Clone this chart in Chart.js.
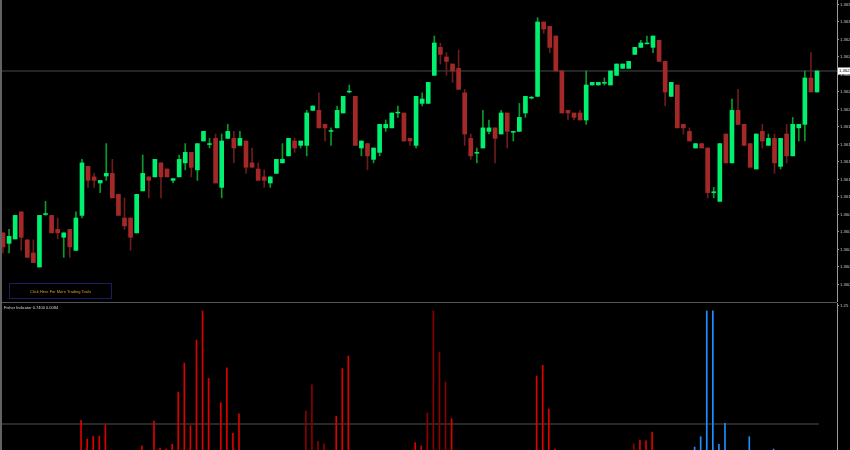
<!DOCTYPE html>
<html>
<head>
<meta charset="utf-8">
<script src="https://cdn.jsdelivr.net/npm/chart.js@4/dist/chart.umd.min.js"></script>
<style>
  html, body { margin: 0; padding: 0; background: #000; }
  #wrap { position: relative; width: 850px; height: 450px; overflow: hidden; background: #000; }
  #top { position: absolute; left: 0; top: 0; }
  #bot { position: absolute; left: 0; top: 303px; }
  #sep { position: absolute; left: 0; top: 302px; width: 837px; height: 1px; background: #555; }
  #lb { position: absolute; left: 0; top: 0; width: 2px; height: 450px; background: #626262; }
</style>
</head>
<body>
<div id="wrap">
  <canvas id="top" width="850" height="302"></canvas>
  <div id="sep"></div>
  <canvas id="bot" width="850" height="147"></canvas>
  <div id="lb"></div>
</div>
<script>
// ---- data ----
const candleOpen = [1.36059,1.36047,1.36052,1.36083,1.36051,1.36036,1.36020,1.36080,1.36079,1.36063,
1.36054,1.36063,1.36039,1.36079,1.36135,1.36123,1.36116,1.36124,1.36127,1.36103,
1.36076,1.36076,1.36059,1.36107,1.36123,1.36123,1.36139,1.36132,1.36119,1.36123,
1.36139,1.36151,1.36131,1.36164,1.36160,1.36167,1.36111,1.36167,1.36167,1.36159,
1.36164,1.36139,1.36132,1.36123,1.36116,1.36127,1.36139,1.36147,1.36164,1.36159,
1.36159,1.36199,1.36199,1.36183,1.36175,1.36179,1.36196,1.36220,1.36215,1.36156,
1.36161,1.36143,1.36151,1.36179,1.36179,1.36196,1.36196,1.36167,1.36159,1.36207,
1.36207,1.36239,1.36271,1.36260,1.36252,1.36247,1.36219,1.36167,1.36150,1.36156,
1.36175,1.36179,1.36172,1.36196,1.36174,1.36175,1.36196,1.36213,1.36215,1.36300,
1.36295,1.36284,1.36244,1.36199,1.36196,1.36196,1.36188,1.36228,1.36228,1.36230,
1.36228,1.36239,1.36247,1.36247,1.36263,1.36271,1.36275,1.36271,1.36279,1.36255,
1.36215,1.36228,1.36183,1.36175,1.36156,1.36161,1.36156,1.36105,1.36095,1.36172,
1.36139,1.36199,1.36183,1.36161,1.36132,1.36175,1.36159,1.36167,1.36135,1.36172,
1.36147,1.36179,1.36183,1.36236,1.36220];
const candleHigh = [1.36059,1.36063,1.36079,1.36083,1.36051,1.36051,1.36079,1.36095,1.36079,1.36076,
1.36059,1.36063,1.36083,1.36143,1.36135,1.36127,1.36119,1.36161,1.36143,1.36103,
1.36099,1.36076,1.36103,1.36148,1.36123,1.36143,1.36139,1.36132,1.36121,1.36148,
1.36161,1.36151,1.36161,1.36175,1.36167,1.36172,1.36172,1.36183,1.36175,1.36175,
1.36164,1.36156,1.36139,1.36131,1.36123,1.36143,1.36161,1.36167,1.36167,1.36164,
1.36199,1.36204,1.36219,1.36183,1.36179,1.36204,1.36215,1.36228,1.36215,1.36164,
1.36161,1.36156,1.36183,1.36188,1.36196,1.36204,1.36196,1.36167,1.36215,1.36219,
1.36231,1.36284,1.36276,1.36265,1.36252,1.36268,1.36223,1.36172,1.36156,1.36199,
1.36188,1.36179,1.36199,1.36196,1.36175,1.36207,1.36215,1.36215,1.36305,1.36300,
1.36295,1.36284,1.36244,1.36199,1.36196,1.36199,1.36244,1.36231,1.36231,1.36236,
1.36244,1.36252,1.36252,1.36255,1.36271,1.36279,1.36284,1.36284,1.36279,1.36255,
1.36231,1.36228,1.36183,1.36179,1.36161,1.36161,1.36156,1.36111,1.36161,1.36172,
1.36212,1.36223,1.36183,1.36161,1.36172,1.36183,1.36172,1.36172,1.36167,1.36183,
1.36191,1.36183,1.36244,1.36265,1.36244];
const candleLow = [1.36036,1.36036,1.36052,1.36039,1.36031,1.36025,1.36020,1.36079,1.36059,1.36052,
1.36031,1.36031,1.36039,1.36076,1.36111,1.36111,1.36105,1.36119,1.36099,1.36079,
1.36063,1.36039,1.36059,1.36107,1.36099,1.36123,1.36099,1.36123,1.36116,1.36123,
1.36131,1.36123,1.36119,1.36164,1.36156,1.36116,1.36099,1.36167,1.36139,1.36159,
1.36127,1.36134,1.36119,1.36111,1.36111,1.36127,1.36139,1.36147,1.36151,1.36156,
1.36147,1.36199,1.36179,1.36164,1.36159,1.36179,1.36196,1.36219,1.36159,1.36147,
1.36131,1.36139,1.36147,1.36175,1.36179,1.36191,1.36164,1.36159,1.36156,1.36204,
1.36207,1.36239,1.36252,1.36239,1.36231,1.36223,1.36159,1.36143,1.36139,1.36156,
1.36172,1.36139,1.36172,1.36156,1.36164,1.36175,1.36191,1.36212,1.36215,1.36287,
1.36265,1.36244,1.36196,1.36188,1.36188,1.36188,1.36183,1.36228,1.36228,1.36228,
1.36228,1.36239,1.36247,1.36247,1.36263,1.36271,1.36275,1.36265,1.36255,1.36204,
1.36215,1.36179,1.36172,1.36164,1.36156,1.36156,1.36099,1.36099,1.36095,1.36139,
1.36139,1.36183,1.36159,1.36134,1.36132,1.36156,1.36159,1.36127,1.36132,1.36139,
1.36147,1.36164,1.36164,1.36220,1.36220];
const candleClose = [1.36043,1.36055,1.36079,1.36054,1.36031,1.36025,1.36079,1.36081,1.36059,1.36059,
1.36059,1.36043,1.36076,1.36139,1.36119,1.36119,1.36119,1.36127,1.36099,1.36079,
1.36067,1.36054,1.36103,1.36127,1.36119,1.36143,1.36123,1.36123,1.36121,1.36143,
1.36151,1.36134,1.36161,1.36175,1.36161,1.36116,1.36164,1.36175,1.36156,1.36167,
1.36134,1.36134,1.36119,1.36119,1.36123,1.36143,1.36143,1.36167,1.36156,1.36164,
1.36196,1.36204,1.36179,1.36179,1.36176,1.36199,1.36215,1.36221,1.36159,1.36164,
1.36147,1.36156,1.36183,1.36183,1.36196,1.36197,1.36164,1.36164,1.36215,1.36212,
1.36231,1.36276,1.36263,1.36255,1.36244,1.36223,1.36172,1.36147,1.36151,1.36179,
1.36179,1.36167,1.36196,1.36175,1.36175,1.36191,1.36215,1.36214,1.36300,1.36292,
1.36271,1.36244,1.36196,1.36196,1.36191,1.36188,1.36228,1.36231,1.36231,1.36231,
1.36244,1.36252,1.36252,1.36255,1.36271,1.36276,1.36276,1.36284,1.36255,1.36220,
1.36231,1.36179,1.36179,1.36164,1.36161,1.36156,1.36105,1.36106,1.36161,1.36139,
1.36199,1.36183,1.36159,1.36134,1.36172,1.36164,1.36167,1.36139,1.36167,1.36147,
1.36183,1.36183,1.36236,1.36220,1.36244];

const priceTicks = [1.3632,1.3630,1.3628,1.3626,1.3624,1.3622,1.3620,1.3618,1.3616,
                    1.3614,1.3612,1.3610,1.3608,1.3606,1.3604,1.3602,1.3600];

// indicator histogram: [candle number, value]
const histRed = [[14,0.281],[15,0.123],[16,0.146],[17,0.148],[18,0.242],[24,0.064],[26,0.275],[27,0.047],
  [28,0.038],[29,0.078],[30,0.521],[31,0.767],[32,0.236],[33,0.962],[34,1.208],[35,0.637],[37,0.431],
  [38,0.727],[39,0.171],[40,0.337],[56,0.315],[57,0.719],[58,0.826],[69,0.092],[70,0.064],[75,0.295],
  [89,0.657],[90,0.747],[91,0.377],[92,0.038],[106,0.114],[107,0.108],[108,0.182]];
const histDarkRed = [[51,0.360],[52,0.581],[53,0.103],[54,0.081],[71,0.343],[72,1.208],[73,0.860],[74,0.606],[105,0.083]];
const histBlue = [[115,0.055],[116,0.142],[117,1.208],[118,1.208],[119,0.078],[120,0.256],[124,0.142],[128,0.038]];
const histTicks = [1.25];
const histLevel = 0.25;

const indicatorTitle = 'Fisher Indicator 0.7400 0.0084';
const buttonText = 'Click Here For More Trading Tools';

// ---- layout / styles ----
const X_MIN = 0.506, X_MAX = 138.29;
const P_MAX = 1.3632514, P_MIN = 1.3598;
const H_MAX = 1.2754, H_MIN = 0.0297;
const GREEN = '#00f070', RED = '#a52828', GREEN_WICK = '#0a9a2a', RED_WICK = '#6b1c1c';
const AXIS = '#9a9a9a';
const FONT = 'Liberation Sans';

const n = candleOpen.length;
const idx = Array.from({length: n}, (_, i) => i);
const bull = idx.map(i => candleClose[i] >= candleOpen[i]);
const lastClose = candleClose[n - 1];

const rightAxisCommon = {
  position: 'right',
  afterFit: s => { s.width = 13; s.paddingTop = 0; s.paddingBottom = 0; },
  grid: { display: true, drawOnChartArea: false, tickLength: 2, color: AXIS },
  border: { display: true, color: AXIS, width: 1 },
  ticks: { autoSkip: false, color: '#c8c8c8', padding: 1, font: { family: FONT, size: 4.3 } }
};
const xAxis = { type: 'linear', display: false, offset: false, min: X_MIN, max: X_MAX };

const topOverlay = {
  id: 'topOverlay',
  afterDraw(chart) {
    const ctx = chart.ctx, y = chart.scales.y.getPixelForValue(lastClose);
    ctx.save();
    ctx.fillStyle = '#ffffff';
    ctx.fillRect(838, Math.round(y) - 3.5, 12, 7);
    ctx.fillStyle = '#000';
    ctx.font = '4.3px ' + FONT;
    ctx.textBaseline = 'middle';
    ctx.fillText(lastClose.toFixed(5), 839, Math.round(y));
    // button
    ctx.strokeStyle = '#1c1c62';
    ctx.lineWidth = 1;
    ctx.strokeRect(9.5, 283.5, 102, 15);
    ctx.fillStyle = '#d4a017';
    ctx.font = '4px ' + FONT;
    ctx.textAlign = 'center';
    ctx.fillText(buttonText, 60.5, 291.5);
    ctx.restore();
  }
};

new Chart(document.getElementById('top'), {
  data: {
    datasets: [
      { type: 'bar', order: 1, grouped: false, barThickness: 4, borderWidth: 0,
        data: idx.map(i => ({ x: i + 1, y: [candleOpen[i], candleClose[i]] })),
        backgroundColor: idx.map(i => bull[i] ? GREEN : RED) },
      { type: 'bar', order: 2, grouped: false, barThickness: 1, borderWidth: 0,
        data: idx.map(i => ({ x: i + 1, y: [candleLow[i], candleHigh[i]] })),
        backgroundColor: idx.map(i => bull[i] ? GREEN_WICK : RED_WICK) },
      { type: 'line', order: 3, borderColor: '#4a4a4a', borderWidth: 1, pointRadius: 0,
        data: [{ x: X_MIN, y: lastClose }, { x: X_MAX, y: lastClose }] }
    ]
  },
  options: {
    responsive: false, animation: false, maintainAspectRatio: false,
    layout: { padding: 0 },
    plugins: { legend: { display: false }, tooltip: { enabled: false } },
    scales: {
      x: xAxis,
      y: Object.assign({}, rightAxisCommon, {
        min: P_MIN, max: P_MAX,
        afterBuildTicks: s => { s.ticks = priceTicks.map(v => ({ value: v })); },
        ticks: Object.assign({}, rightAxisCommon.ticks, { callback: v => v.toFixed(4) })
      })
    }
  },
  plugins: [topOverlay]
});

const botOverlay = {
  id: 'botOverlay',
  afterDraw(chart) {
    const ctx = chart.ctx;
    ctx.save();
    ctx.fillStyle = '#d8d8d8';
    ctx.font = '4px ' + FONT;
    ctx.textBaseline = 'middle';
    ctx.fillText(indicatorTitle, 4, 4.5);
    ctx.restore();
  }
};

const histSet = (arr, color) => ({
  type: 'bar', order: 1, grouped: false, barThickness: 1, borderWidth: 0,
  data: arr.map(p => ({ x: p[0] - 0.15, y: p[1] })), backgroundColor: color
});

new Chart(document.getElementById('bot'), {
  data: {
    datasets: [
      histSet(histRed, '#dd0000'),
      histSet(histDarkRed, '#8a0000'),
      histSet(histBlue, '#1e8fff'),
      { type: 'line', order: 2, borderColor: '#363636', borderWidth: 1.5, pointRadius: 0,
        data: [{ x: X_MIN, y: histLevel }, { x: 135.3, y: histLevel }] }
    ]
  },
  options: {
    responsive: false, animation: false, maintainAspectRatio: false,
    layout: { padding: 0 },
    plugins: { legend: { display: false }, tooltip: { enabled: false } },
    scales: {
      x: Object.assign({}, xAxis),
      y: Object.assign({}, rightAxisCommon, {
        min: H_MIN, max: H_MAX,
        afterBuildTicks: s => { s.ticks = histTicks.map(v => ({ value: v })); },
        ticks: Object.assign({}, rightAxisCommon.ticks, { callback: v => v.toFixed(2) })
      })
    }
  },
  plugins: [botOverlay]
});
</script>
</body>
</html>
